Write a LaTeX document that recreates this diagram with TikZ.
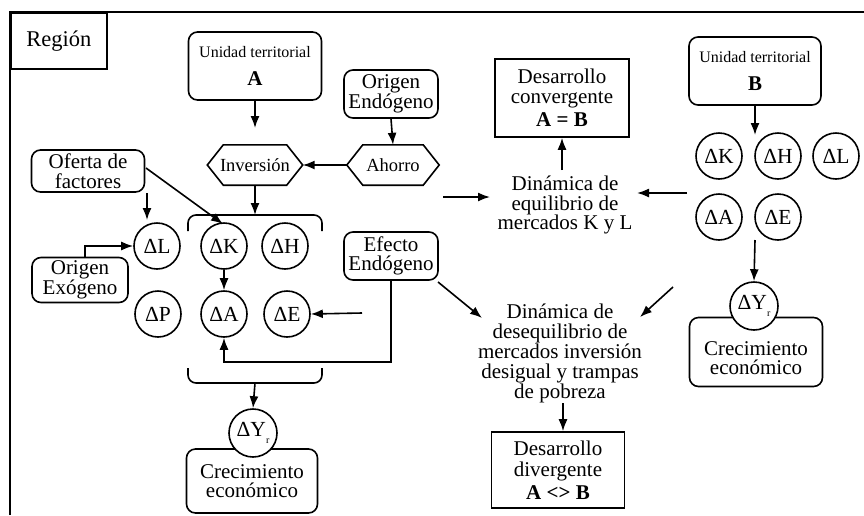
\documentclass[tikz,border=0pt]{standalone}
\usepackage{fontspec}
\setmainfont{Liberation Serif}
\usetikzlibrary{arrows.meta,calc}
\begin{document}
\begin{tikzpicture}[x=1pt,y=-1pt,
  every node/.style={font=\fontsize{21}{19.5}\selectfont, align=center, inner sep=0pt},
  line/.style={line width=1.6pt},
  arr/.style={line width=1.6pt, -{Latex[length=12pt,width=9pt]}},
  rbox/.style={draw, line width=1.6pt, rounded corners=9pt},
  sbox/.style={draw, line width=1.6pt},
  fac/.style={draw, circle, line width=1.6pt, minimum size=46pt, fill=white, font=\fontsize{21.5}{20}\selectfont},
  hexlbl/.style={minimum height=40pt, font=\fontsize{18.5}{20}\selectfont},
]
\useasboundingbox (0,0) rectangle (864,515);

% outer frame of the region
\draw[line] (10,515) -- (10,12) -- (864,12);
\node[sbox, minimum width=96pt, minimum height=56pt, anchor=north west,
  font=\fontsize{22.5}{22}\selectfont] (reg) at (10,12) {Región};

% ---------- territorial unit A ----------
\node[rbox, minimum width=133pt, minimum height=68pt] (uA) at (255,66)
  {{\fontsize{16}{17}\selectfont Unidad territorial}\\[8pt]\textbf{A}};
\node[rbox, minimum width=94pt, minimum height=48pt] (oen) at (391,94) {Origen\\Endógeno};

% hexagons
\node[hexlbl, minimum width=95pt] (inv) at (255,165) {Inversión};
\draw[line] (inv.west) -- ([xshift=16pt]inv.north west) -- ([xshift=-16pt]inv.north east)
  -- (inv.east) -- ([xshift=-16pt]inv.south east) -- ([xshift=16pt]inv.south west) -- cycle;
\node[hexlbl, minimum width=92pt] (aho) at (393,165) {Ahorro};
\draw[line] (aho.west) -- ([xshift=16pt]aho.north west) -- ([xshift=-16pt]aho.north east)
  -- (aho.east) -- ([xshift=-16pt]aho.south east) -- ([xshift=16pt]aho.south west) -- cycle;

\node[rbox, minimum width=113pt, minimum height=42pt] (ofe) at (88,171) {Oferta de\\factores};
\node[rbox, minimum width=96pt, minimum height=45pt] (oex) at (80,280) {Origen\\Exógeno};
\node[rbox, minimum width=94pt, minimum height=48pt] (efe) at (391,256) {Efecto\\Endógeno};

% factor circles of A
\node[fac] (aL) at (157,246) {ΔL};
\node[fac] (aK) at (224,246) {ΔK};
\node[fac] (aH) at (285,246) {ΔH};
\node[fac] (aP) at (158,314) {ΔP};
\node[fac] (aA) at (224,314) {ΔA};
\node[fac] (aE) at (287,314) {ΔE};

% brackets grouping the factors
\draw[line, rounded corners=8pt] (188,231) -- (188,215) -- (322,215) -- (322,231);
\draw[line, rounded corners=8pt] (188,368) -- (188,383) -- (322,383) -- (322,368);
\coordinate (btop) at (255,215);
\coordinate (bbot) at (255,383);

% growth of A
\node[rbox, minimum width=131pt, minimum height=64pt] (crA) at (252,481) {Crecimiento\\económico};
\node[fac, minimum size=48pt] (yA) at (253,433) {ΔY\raisebox{-7pt}{\fontsize{10}{10}\selectfont r}};

% ---------- territorial unit B ----------
\node[rbox, minimum width=132pt, minimum height=68pt] (uB) at (755,71)
  {{\fontsize{16}{17}\selectfont Unidad territorial}\\[8pt]\textbf{B}};
\node[fac] (bK) at (719,156) {ΔK};
\node[fac] (bH) at (778,156) {ΔH};
\node[fac] (bL) at (836,156) {ΔL};
\node[fac] (bA) at (719,217) {ΔA};
\node[fac] (bE) at (778,217) {ΔE};
\node[rbox, minimum width=133pt, minimum height=69pt] (crB) at (756,352) {};
\node (crBtxt) at (756,358) {Crecimiento\\económico};
\node[fac, minimum size=48pt] (yB) at (754,306) {ΔY\raisebox{-7pt}{\fontsize{10}{10}\selectfont r}};

% ---------- outcomes ----------
\node[sbox, minimum width=134pt, minimum height=78pt] (dconv) at (562,98)
  {Desarrollo\\convergente\\[4pt]\textbf{A = B}};
\node (dineq) at (565,205) {Dinámica de\\equilibrio de\\mercados K y L};
\node[font=\fontsize{21}{20}\selectfont] (ddes) at (560,353)
  {Dinámica de\\desequilibrio de\\mercados inversión\\desigual y trampas\\de pobreza};
\node[sbox, minimum width=133pt, minimum height=76pt] (ddiv) at (558,470)
  {Desarrollo\\[2pt]divergente\\[3pt]\textbf{A <> B}};

% free connector ends
\coordinate (uAtip) at (255,128);
\coordinate (ofeS) at (147,193);
\coordinate (aLtip) at (147,220);
\coordinate (ofeE) at (146,168);
\coordinate (aKtip) at (223,224);
\coordinate (oexup) at (85,258);
\coordinate (eE) at (362,313);
\coordinate (eloop) at (391,362);
\coordinate (midL) at (443,197);
\coordinate (eqW) at (490,197);
\coordinate (eqN) at (562,170);
\coordinate (bW) at (687,193);
\coordinate (eqE) at (637,193);
\coordinate (uBtip) at (755,135);
\coordinate (bS) at (755,240);
\coordinate (efeSE) at (438,282);
\coordinate (desNW) at (482,318);
\coordinate (bSW) at (673,287);
\coordinate (desNE) at (640,317);
\coordinate (desS) at (563,403);

% ---------- connectors ----------
\draw[arr] (uA.south) -- (uAtip);
\draw[arr] (oen.south) -- (aho.north);
\draw[arr] (aho.west) -- (inv.east);
\draw[arr] (inv.south) -- (btop);
\draw[arr] (ofeS) -- (aLtip);
\draw[arr] (ofeE) -- (aKtip);
\draw[arr] (oexup) |- (aL.west);
\draw[arr] (aK.south) -- (aA.north);
\draw[arr] (eE) -- (aE.east);
\draw[arr] (efe.south) -- (eloop) -| (aA.south);
\draw[arr] (bbot) -- (yA.north);

\draw[arr] (midL) -- (eqW);
\draw[arr] (eqN) -- (dconv.south);
\draw[arr] (bW) -- (eqE);
\draw[arr] (uB.south) -- (uBtip);
\draw[arr] (bS) -- (yB.north);
\draw[arr] (efeSE) -- (desNW);
\draw[arr] (bSW) -- (desNE);
\draw[arr] (desS) -- (desS |- ddiv.north);
\end{tikzpicture}
\end{document}
